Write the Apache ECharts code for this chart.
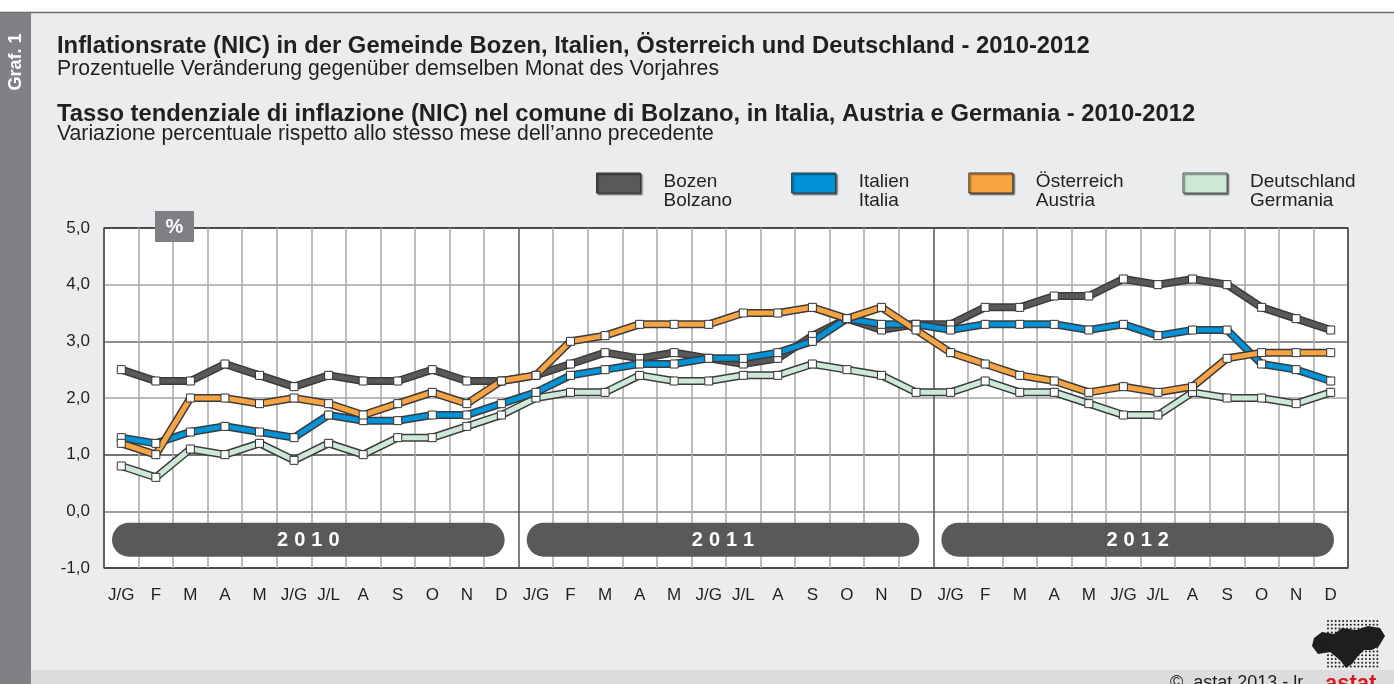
<!DOCTYPE html>
<html>
<head>
<meta charset="utf-8">
<script src="https://cdn.jsdelivr.net/npm/echarts@6/dist/echarts.min.js"></script>
<style>
html,body{margin:0;padding:0;background:#ebeced;}
#chart{width:1394px;height:684px;}
</style>
</head>
<body>
<div id="chart"></div>
<script>
// ---- data ----
const months = ['J/G','F','M','A','M','J/G','J/L','A','S','O','N','D'];
const years = ['2010','2011','2012'];
const categories = [].concat(months, months, months);
const seriesNames = ['Bozen\nBolzano','Italien\nItalia','Österreich\nAustria','Deutschland\nGermania'];
const bozen   = [2.5,2.3,2.3,2.6,2.4,2.2,2.4,2.3,2.3,2.5,2.3,2.3, 2.4,2.6,2.8,2.7,2.8,2.7,2.6,2.7,3.1,3.4,3.2,3.3, 3.3,3.6,3.6,3.8,3.8,4.1,4.0,4.1,4.0,3.6,3.4,3.2];
const italia  = [1.3,1.2,1.4,1.5,1.4,1.3,1.7,1.6,1.6,1.7,1.7,1.9, 2.1,2.4,2.5,2.6,2.6,2.7,2.7,2.8,3.0,3.4,3.3,3.3, 3.2,3.3,3.3,3.3,3.2,3.3,3.1,3.2,3.2,2.6,2.5,2.3];
const austria = [1.2,1.0,2.0,2.0,1.9,2.0,1.9,1.7,1.9,2.1,1.9,2.3, 2.4,3.0,3.1,3.3,3.3,3.3,3.5,3.5,3.6,3.4,3.6,3.2, 2.8,2.6,2.4,2.3,2.1,2.2,2.1,2.2,2.7,2.8,2.8,2.8];
const germany = [0.8,0.6,1.1,1.0,1.2,0.9,1.2,1.0,1.3,1.3,1.5,1.7, 2.0,2.1,2.1,2.4,2.3,2.3,2.4,2.4,2.6,2.5,2.4,2.1, 2.1,2.3,2.1,2.1,1.9,1.7,1.7,2.1,2.0,2.0,1.9,2.1];

// ---- styling ----
const FONT = '"Liberation Sans", Arial, sans-serif';
const colors = {bozen:'#58595b', italia:'#0093d8', austria:'#f9a443', germany:'#cde8d6'};
const casing = '#3b3b3b';
const txt = '#231f20';

// x split line colours: darker at year boundaries
const xSplit = [];
for (let i = 0; i <= categories.length; i++) xSplit.push((i % 12 === 0) ? '#555' : '#a7a7a7');
const ySplit = ['#333','#7a7a7a','#444','#a5a5a5','#6a6a6a','#a5a5a5','#333'];

// legend swatch: rect in the upper part of the item box (text sits slightly lower)
const legendIcon = 'path://M0,0L44,0L44,20L0,20Z M0,36L0.01,36';

function lineSeries(name, data, color) {
  return [
    {
      type:'line', name: name + '_casing', data: data, silent: true,
      symbol:'none', lineStyle:{width:8, color: casing, join:'miter'}, animation:false, legendHoverLink:false
    },
    {
      type:'line', name: name, data: data, animation:false,
      symbol:'rect', symbolSize:8,
      lineStyle:{width:5, color: color, join:'miter'},
      itemStyle:{color:'#fff', borderColor:'#333', borderWidth:1}
    }
  ];
}

const pillData = years.map((y, i) => [i * 12, i * 12 + 11]);

// logo dots (decoration)
const logoDots = [];
for (let gx = 0; gx < 14; gx++) {
  for (let gy = 0; gy < 13; gy++) {
    logoDots.push({type:'circle', shape:{cx:1328 + gx * 3.8, cy:621 + gy * 3.8, r:1}, style:{fill:'#222'}, z:7});
  }
}

const chart = echarts.init(document.getElementById('chart'), null, {renderer:'canvas'});

const option = {
  backgroundColor:'#ebeced',
  textStyle:{fontFamily: FONT},
  animation:false,
  grid:{left:104, right:46, top:228, bottom:116, show:true, backgroundColor:'#fff', borderColor:'#333', borderWidth:1.2},
  legend:{
    left:596, top:172, padding:0, itemWidth:44, itemHeight:36, itemGap:59, icon:legendIcon,
    selectedMode:false,
    textStyle:{fontSize:19, color:txt, lineHeight:19, padding:[0,0,0,18], fontFamily: FONT},
    itemStyle:{shadowColor:'rgba(0,0,0,0.55)', shadowOffsetX:1.5, shadowOffsetY:1.5, shadowBlur:1.5},
    data:[
      {name:seriesNames[0], itemStyle:{color:colors.bozen, borderColor:'#333', borderWidth:1}},
      {name:seriesNames[1], itemStyle:{color:colors.italia, borderColor:'#333', borderWidth:1}},
      {name:seriesNames[2], itemStyle:{color:colors.austria, borderColor:'#333', borderWidth:1}},
      {name:seriesNames[3], itemStyle:{color:colors.germany, borderColor:'#555', borderWidth:1}}
    ]
  },
  xAxis:{
    type:'category', data:categories, boundaryGap:true,
    axisLine:{show:false}, axisTick:{show:false},
    axisLabel:{color:txt, fontSize:17, margin:19, interval:0, fontFamily: FONT},
    splitLine:{show:true, lineStyle:{color:xSplit, width:1.5}}
  },
  yAxis:{
    type:'value', min:-1, max:5, interval:1,
    axisLine:{show:false}, axisTick:{show:false},
    axisLabel:{color:txt, fontSize:17, margin:14, fontFamily: FONT,
      formatter: v => v.toFixed(1).replace('.', ',')},
    splitLine:{show:true, lineStyle:{color:ySplit, width:1.5}}
  },
  title:[
    {text:'Inflationsrate (NIC) in der Gemeinde Bozen, Italien, Österreich und Deutschland - 2010-2012', left:57, top:34, padding:0,
      textStyle:{fontSize:23.8, fontWeight:'bold', color:txt, fontFamily: FONT}},
    {text:'Prozentuelle Veränderung gegenüber demselben Monat des Vorjahres', left:57, top:58.5, padding:0,
      textStyle:{fontSize:21.2, fontWeight:'normal', color:txt, fontFamily: FONT}},
    {text:'Tasso tendenziale di inflazione (NIC) nel comune di Bolzano, in Italia, Austria e Germania - 2010-2012', left:57, top:102, padding:0,
      textStyle:{fontSize:23.8, fontWeight:'bold', color:txt, fontFamily: FONT}},
    {text:'Variazione percentuale rispetto allo stesso mese dell’anno precedente', left:57, top:123.5, padding:0,
      textStyle:{fontSize:21.2, fontWeight:'normal', color:txt, fontFamily: FONT}}
  ],
  series:[
    {
      type:'custom', name:'years', data: pillData, clip:false, silent:true, z:1,
      encode:{x:[0,1], y:1},
      renderItem:function(params, api){
        const s = api.coord([api.value(0), -0.2]);
        const e = api.coord([api.value(1), -0.8]);
        const band = api.size([1, 0])[0];
        const x0 = s[0] - band / 2 + 8;
        const x1 = e[0] + band / 2 - 14;
        const h = e[1] - s[1];
        const label = years[params.dataIndex].split('').map(c => '{d|' + c + '}').join('');
        return {type:'group', children:[
          {type:'rect', shape:{x:x0, y:s[1], width:x1 - x0, height:h, r:h / 2}, style:{fill:'#58595b'}},
          {type:'text', x:(x0 + x1) / 2, y:s[1] + h / 2 + 1,
            style:{text: label, fill:'#fff', font:'bold 20px ' + FONT, align:'center', verticalAlign:'middle',
              rich:{d:{fill:'#fff', font:'bold 20px ' + FONT, padding:[0,3,0,3]}}}}
        ]};
      }
    }
  ].concat(
    lineSeries(seriesNames[3], germany, colors.germany),
    lineSeries(seriesNames[0], bozen, colors.bozen),
    lineSeries(seriesNames[1], italia, colors.italia),
    lineSeries(seriesNames[2], austria, colors.austria)
  ),
  graphic:[
    {type:'rect', left:0, top:0, shape:{width:1394, height:12}, style:{fill:'#fff'}, z:-10},
    {type:'line', shape:{x1:0, y1:12.5, x2:1394, y2:12.5}, style:{stroke:'#6d6e71', lineWidth:1.5}, z:10},
    {type:'rect', shape:{x:0, y:13, width:31, height:671}, style:{fill:'#808184'}, z:10},
    {type:'text', x:16, y:62, rotation:Math.PI / 2,
      style:{text:'Graf. 1', fill:'#fff', font:'bold 18px ' + FONT, align:'center', verticalAlign:'middle'}, z:11},
    {type:'rect', shape:{x:155, y:211, width:39, height:31}, style:{fill:'#7f8083'}, z:20},
    {type:'text', x:174.5, y:227, style:{text:'%', fill:'#fff', font:'bold 20px ' + FONT, align:'center', verticalAlign:'middle'}, z:21},
    {type:'rect', shape:{x:31, y:670, width:1363, height:14}, style:{fill:'#dcdddf'}, z:5},
    {type:'text', x:1170, y:683, style:{text:'©  astat 2013 - lr', fill:txt, font:'18px ' + FONT, align:'left', verticalAlign:'middle'}, z:6},
    {type:'polygon', shape:{points:[[1314,638],[1322,632],[1334,634],[1342,628],[1356,630],[1368,626],[1380,628],[1385,636],[1379,646],[1372,650],[1364,650],[1358,656],[1352,664],[1346,668],[1340,660],[1330,652],[1318,654],[1312,646]]},
      style:{fill:'#1e1e1e'}, z:6}
  ].concat(logoDots, [
    {type:'text', x:1325, y:684, style:{text:'astat', fill:'#d71920', font:'bold 22px ' + FONT, align:'left', verticalAlign:'middle'}, z:8}
  ])
};
chart.setOption(option);
</script>
</body>
</html>
